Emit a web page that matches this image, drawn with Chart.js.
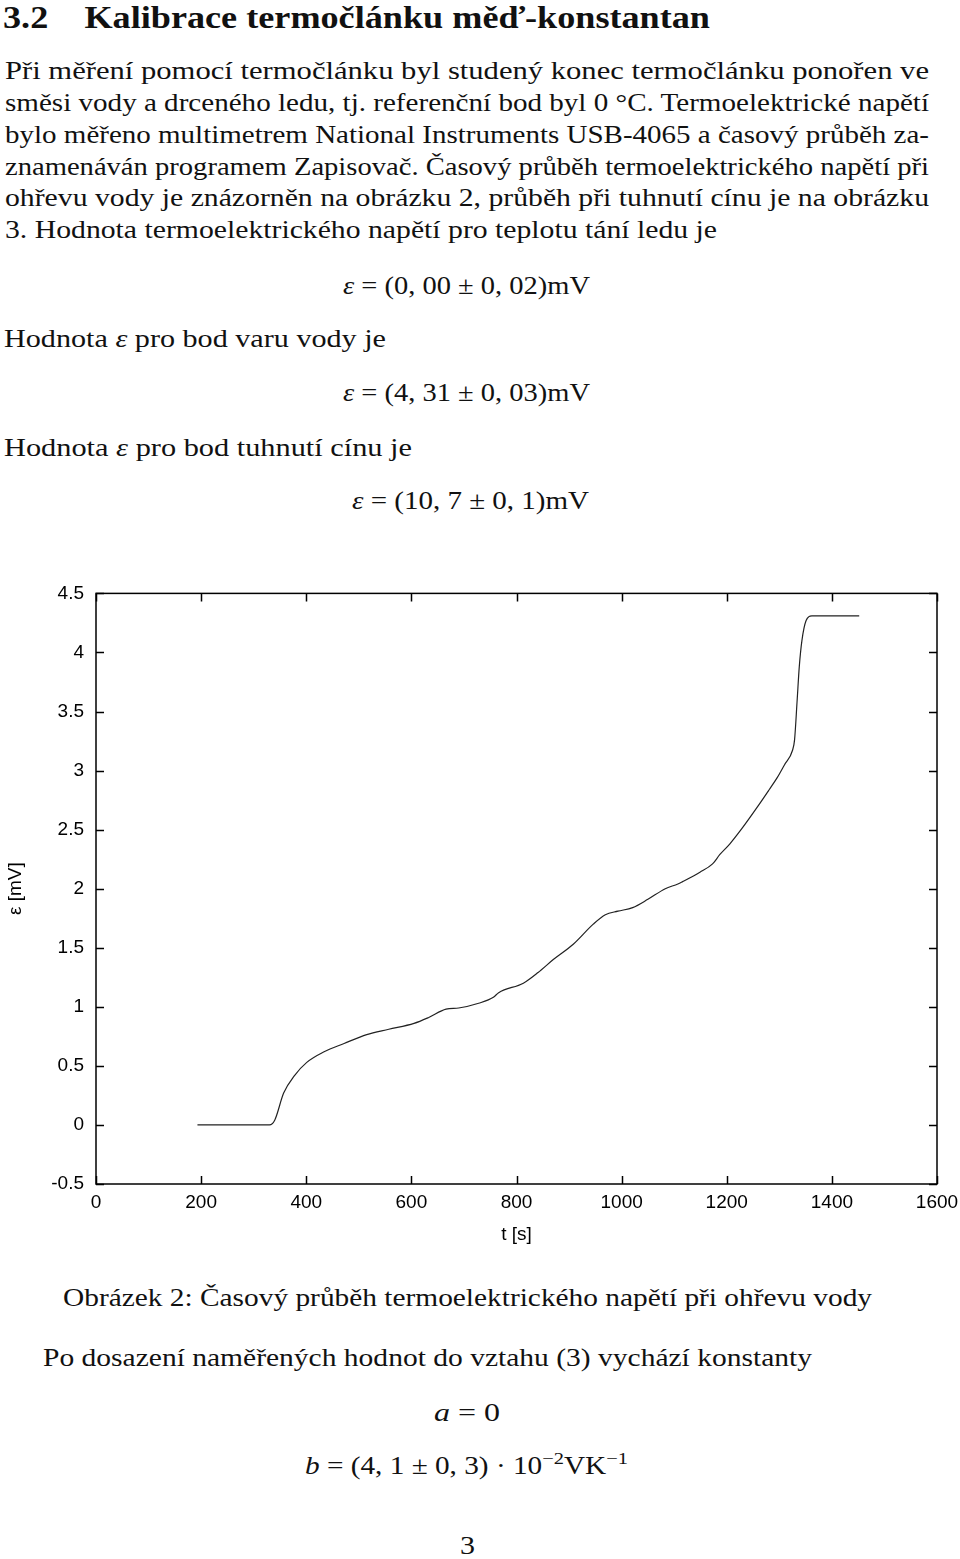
<!DOCTYPE html>
<html>
<head>
<meta charset="utf-8">
<script src="https://cdn.jsdelivr.net/npm/chart.js@4.4.1/dist/chart.umd.min.js"></script>
<style>
  html, body { margin: 0; padding: 0; background: #fff; }
  body { width: 960px; height: 1559px; position: relative; overflow: hidden; }
  .t { position: absolute; white-space: nowrap; font-family: "Liberation Serif", "DejaVu Serif", serif;
       font-size: 25px; line-height: 1; color: #111; transform-origin: left center; }
  .h { font-weight: bold; font-size: 31px; }
  sup { font-size: 0.7em; line-height: 0; vertical-align: 0.55em; }
  #chartBox { position: absolute; left: 0; top: 570px; }
</style>
</head>
<body>
<div class="t h" id="h1">3.2&nbsp;&nbsp;&nbsp;&nbsp;Kalibrace termočlánku měď-konstantan</div>
<div class="t" id="p1">Při měření pomocí termočlánku byl studený konec termočlánku ponořen ve</div>
<div class="t" id="p2">směsi vody a drceného ledu, tj. referenční bod byl 0 °C. Termoelektrické napětí</div>
<div class="t" id="p3">bylo měřeno multimetrem National Instruments USB-4065 a časový průběh za-</div>
<div class="t" id="p4">znamenáván programem Zapisovač. Časový průběh termoelektrického napětí při</div>
<div class="t" id="p5">ohřevu vody je znázorněn na obrázku 2, průběh při tuhnutí cínu je na obrázku</div>
<div class="t" id="p6">3. Hodnota termoelektrického napětí pro teplotu tání ledu je</div>
<div class="t" id="e1"><i>ε</i> = (0, 00 ± 0, 02)mV</div>
<div class="t" id="p7">Hodnota <i>ε</i> pro bod varu vody je</div>
<div class="t" id="e2"><i>ε</i> = (4, 31 ± 0, 03)mV</div>
<div class="t" id="p8">Hodnota <i>ε</i> pro bod tuhnutí cínu je</div>
<div class="t" id="e3"><i>ε</i> = (10, 7 ± 0, 1)mV</div>

<div id="chartBox"><canvas id="line-chart" width="960" height="680"></canvas></div>

<div class="t" id="cap">Obrázek 2: Časový průběh termoelektrického napětí při ohřevu vody</div>
<div class="t" id="p9">Po dosazení naměřených hodnot do vztahu (3) vychází konstanty</div>
<div class="t" id="e4"><i>a</i> = 0</div>
<div class="t" id="e5"><i>b</i> = (4, 1 ± 0, 3) · 10<sup>−2</sup>VK<sup>−1</sup></div>
<div class="t" id="pg">3</div>

<script>
  // time [s] and thermo-emf [mV]
  var times = [193, 330, 340, 357, 378, 401, 434, 472, 515, 557, 605, 633, 666, 690, 728, 756, 766,
    813, 841, 870, 908, 946, 969, 993, 1021, 1050, 1083, 1107, 1116, 1149, 1173, 1187, 1206, 1229,
    1258, 1281, 1296, 1310, 1325, 1329, 1334, 1338, 1343, 1351, 1362, 1381, 1452];
  var emf = [0, 0, 0.04, 0.27, 0.42, 0.53, 0.62, 0.69, 0.765, 0.81, 0.86, 0.91, 0.98, 0.99, 1.03, 1.08, 1.12,
    1.20, 1.29, 1.40, 1.53, 1.70, 1.78, 1.81, 1.84, 1.91, 2.00, 2.04, 2.06, 2.14, 2.21, 2.29, 2.38, 2.51,
    2.69, 2.84, 2.94, 3.05, 3.17, 3.26, 3.60, 3.88, 4.10, 4.27, 4.31, 4.31, 4.31];
  var xTickValues = [0, 200, 400, 600, 800, 1000, 1200, 1400, 1600];
  var yTickValues = [-0.5, 0, 0.5, 1, 1.5, 2, 2.5, 3, 3.5, 4, 4.5];

  // text placement: left, right, vertical centre
  var textBoxes = [
    ['h1', 3, 710, 17],
    ['p1', 5, 929, 70], ['p2', 5, 929, 102], ['p3', 5, 929, 134],
    ['p4', 5, 929, 166], ['p5', 5, 929, 197], ['p6', 5, 717, 229],
    ['e1', 343, 590, 285], ['p7', 4, 386, 338], ['e2', 343, 590, 392],
    ['p8', 4, 412, 447], ['e3', 352, 589, 500],
    ['cap', 63, 872, 1297], ['p9', 43, 812, 1357], ['e4', 434, 500, 1412],
    ['e5', 305, 628, 1465], ['pg', 460, 475, 1545]
  ];
  textBoxes.forEach(function (b) {
    var el = document.getElementById(b[0]);
    var w = el.getBoundingClientRect().width;
    el.style.left = b[1] + 'px';
    el.style.top = (b[3] - el.offsetHeight / 2) + 'px';
    el.style.transform = 'scaleX(' + ((b[2] - b[1]) / w) + ')';
  });

  var points = times.map(function (t, i) { return { x: t, y: emf[i] }; });

  // gnuplot style frame with inward ticks on all four sides
  var frameTicks = {
    id: 'frameTicks',
    afterDraw: function (chart) {
      var ctx = chart.ctx, a = chart.chartArea;
      var xs = chart.scales.x, ys = chart.scales.y;
      ctx.save();
      ctx.strokeStyle = '#000';
      ctx.lineWidth = 1.5;
      ctx.strokeRect(a.left, a.top, a.right - a.left, a.bottom - a.top);
      ctx.beginPath();
      xs.ticks.forEach(function (t) {
        var px = Math.round(xs.getPixelForValue(t.value)) + 0.5;
        ctx.moveTo(px, a.bottom); ctx.lineTo(px, a.bottom - 8);
        ctx.moveTo(px, a.top); ctx.lineTo(px, a.top + 8);
      });
      ys.ticks.forEach(function (t) {
        var py = Math.round(ys.getPixelForValue(t.value)) + 0.5;
        ctx.moveTo(a.left, py); ctx.lineTo(a.left + 8, py);
        ctx.moveTo(a.right, py); ctx.lineTo(a.right - 8, py);
      });
      ctx.stroke();
      ctx.restore();
    }
  };

  var axisFont = { family: '"Liberation Sans", Arial, sans-serif', size: 19 };
  var plainLabel = function (v) { return String(v); };

  new Chart(document.getElementById('line-chart'), {
    type: 'line',
    data: {
      datasets: [{
        data: points,
        borderColor: '#222',
        borderWidth: 1.2,
        pointRadius: 0,
        fill: false,
        cubicInterpolationMode: 'monotone'
      }]
    },
    options: {
      responsive: false,
      animation: false,
      devicePixelRatio: 1,
      layout: { padding: { left: 0, right: 23, top: 20, bottom: 0 } },
      plugins: { legend: { display: false }, tooltip: { enabled: false } },
      scales: {
        x: {
          type: 'linear', min: 0, max: 1600,
          afterBuildTicks: function (s) { s.ticks = xTickValues.map(function (v) { return { value: v }; }); },
          afterFit: function (s) { s.height = 66; s.paddingLeft = 0; s.paddingRight = 0; },
          grid: { display: false, drawTicks: false },
          border: { display: false },
          ticks: { color: '#000', font: axisFont, padding: 7, maxRotation: 0, callback: plainLabel },
          title: { display: true, text: 't [s]', color: '#000', font: axisFont, padding: { top: 4, bottom: 4 } }
        },
        y: {
          type: 'linear', min: -0.5, max: 4.5,
          afterBuildTicks: function (s) { s.ticks = yTickValues.map(function (v) { return { value: v }; }); },
          afterFit: function (s) { s.width = 96; },
          grid: { display: false, drawTicks: false },
          border: { display: false },
          ticks: { color: '#000', font: axisFont, padding: 12, callback: plainLabel },
          title: { display: true, text: 'ε [mV]', color: '#000', font: axisFont, padding: { top: 4, bottom: 4 } }
        }
      }
    },
    plugins: [frameTicks]
  });
</script>
</body>
</html>
